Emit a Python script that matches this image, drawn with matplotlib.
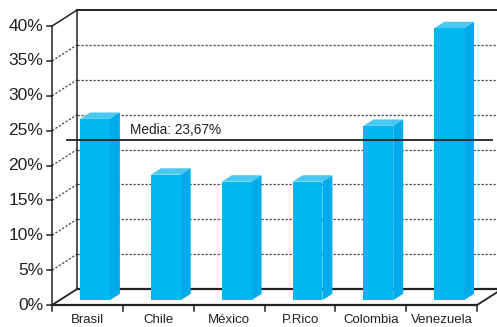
import matplotlib.pyplot as plt
from matplotlib.patches import Polygon
import numpy as np

plt.rcParams['font.family'] = ['Liberation Sans', 'DejaVu Sans']

# Dades
paisos = ['Brasil', 'Chile', 'México', 'P.Rico', 'Colombia', 'Venezuela']
valors = [26, 18, 17, 17, 25, 39]
ticks_y = [0, 5, 10, 15, 20, 25, 30, 35, 40]
etiquetes_y = ['0%', '5%', '10%', '15%', '20%', '25%', '30%', '35%', '40%']
media = np.mean(valors)

# Profunditat de la perspectiva (x en categories, y en %)
DX = 0.353
DY = 2.29
ample = 0.42
c_davant = '#00b8f0'
c_dalt = '#4ac8f2'
c_costat = '#00abec'
c_linia = '#222222'

fig = plt.figure(figsize=(4.97, 3.27), dpi=100)
ax = fig.add_axes([0, 0, 1, 1])
ax.set_xlim(-1.2354, 5.781)
ax.set_ylim(-3.154, 43.73)
ax.axis('off')

n = len(paisos)
xe, xd = -0.5, n - 0.5

# Paret del fons: línies de punts i diagonals
for t in ticks_y[1:-1]:
    ax.plot([xe + DX, xd + DX], [t + DY, t + DY], color='#444444', lw=0.9,
            ls=(0, (1.8, 1.4)), zorder=1)
    ax.plot([xe, xe + DX], [t, t + DY], color='#444444', lw=0.9,
            ls=(0, (1.8, 1.4)), zorder=1)

# Marc
ax.plot([xe + DX, xd + DX], [40 + DY, 40 + DY], color=c_linia, lw=1.4, zorder=1)
ax.plot([xe, xe + DX], [40, 40 + DY], color=c_linia, lw=1.1, zorder=1)
ax.plot([xe + DX, xe + DX], [DY, 40 + DY], color=c_linia, lw=1.1, zorder=1)
ax.plot([xe + DX, xd + DX], [DY, DY], color=c_linia, lw=1.6, zorder=1)
ax.plot([xe, xe], [0, 40], color=c_linia, lw=1.1, zorder=5)
ax.plot([xe, xd], [0, 0], color=c_linia, lw=1.6, zorder=5)
ax.plot([xe, xe + DX], [0, DY], color=c_linia, lw=1.3, zorder=5)
ax.plot([xd, xd + DX], [0, DY], color=c_linia, lw=1.3, zorder=5)

# Ticks eix y
for t, lab in zip(ticks_y, etiquetes_y):
    ax.plot([xe - 0.07, xe], [t, t], color=c_linia, lw=1.1, zorder=5)
    ax.text(xe - 0.125, t, lab, ha='right', va='center', fontsize=12.5,
            color='#222222')

# Ticks eix x
for b in np.arange(xe, xd + 0.01, 1):
    ax.plot([b, b], [0, -0.9], color=c_linia, lw=1.1, zorder=5)
for i, p in enumerate(paisos):
    ax.text(i, -2.2, p, ha='center', va='center', fontsize=9.5, color='#222222')

# Barres 3D
x = np.arange(n)
base = 0.3 * DY
ax.bar(x + 0.3 * DX, valors, width=ample, bottom=base, color=c_davant, zorder=3)
for xi, v in zip(x + 0.3 * DX, valors):
    xl, xr = xi - ample / 2, xi + ample / 2
    dalt = v + base
    ax.add_patch(Polygon([(xl, dalt), (xr, dalt), (xr + 0.4 * DX, dalt + 0.4 * DY),
                          (xl + 0.4 * DX, dalt + 0.4 * DY)], closed=True,
                         facecolor=c_dalt, edgecolor='none', zorder=3))
    ax.add_patch(Polygon([(xr, base), (xr + 0.4 * DX, base + 0.4 * DY),
                          (xr + 0.4 * DX, dalt + 0.4 * DY), (xr, dalt)], closed=True,
                         facecolor=c_costat, edgecolor='none', zorder=3))

# Línia de la mitjana
ax.plot([xe + 0.6 * DX, xd + 0.6 * DX], [media, media], color=c_linia, lw=1.3, zorder=6)
ax.text(0.6, media + 0.9, 'Media: ' + f'{media:.2f}'.replace('.', ',') + '%',
        ha='left', va='baseline', fontsize=9.8, color='#222222', zorder=6)

plt.savefig('out.png', dpi=100)
